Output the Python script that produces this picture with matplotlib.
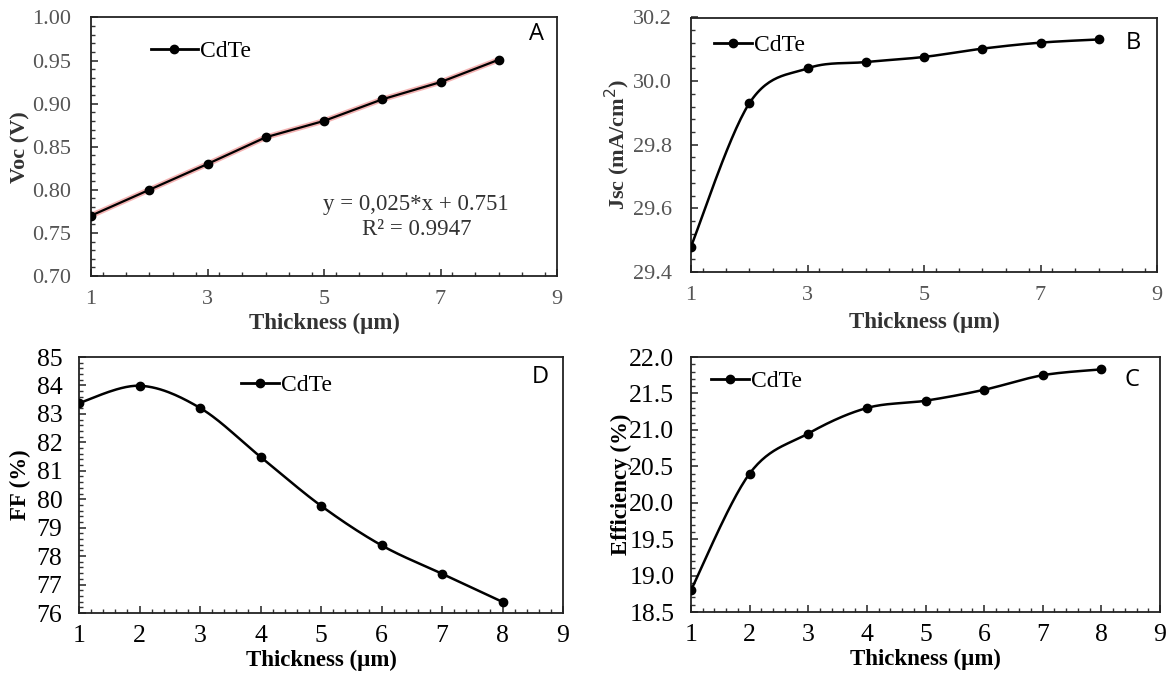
import numpy as np
import matplotlib
matplotlib.use("Agg")
import matplotlib.pyplot as plt
from matplotlib.ticker import MultipleLocator, FixedLocator, FormatStrFormatter
from matplotlib.lines import Line2D

plt.rcParams['font.family'] = ['Liberation Serif', 'DejaVu Serif']

thickness = [1, 2, 3, 4, 5, 6, 7, 8]
voc = [0.770, 0.800, 0.830, 0.861, 0.880, 0.905, 0.925, 0.951]
jsc = [29.48, 29.93, 30.04, 30.06, 30.076, 30.102, 30.121, 30.131]
ff = [83.38, 83.99, 83.21, 81.49, 79.77, 78.38, 77.38, 76.39]
eff = [18.80, 20.40, 20.95, 21.30, 21.40, 21.55, 21.75, 21.83]
top_xticks = [1, 3, 5, 7, 9]
bottom_xticks = [1, 2, 3, 4, 5, 6, 7, 8, 9]
fit_text = ["y = 0,025*x + 0.751", "R² = 0.9947"]

W, H = 1167, 673
fig = plt.figure(figsize=(W / 100, H / 100), dpi=100)


def px_axes(l, t, r, b):
    return fig.add_axes([l / W, 1 - b / H, (r - l) / W, (b - t) / H])


def smooth(x, y, n=30):
    x = np.asarray(x, float)
    y = np.asarray(y, float)
    P = np.column_stack([x, y])
    P = np.vstack([P[0], P, P[-1]])
    out = []
    for i in range(1, len(P) - 2):
        p0, p1, p2, p3 = P[i - 1], P[i], P[i + 1], P[i + 2]
        t = np.linspace(0, 1, n)[:, None]
        c = 0.5 * ((2 * p1) + (-p0 + p2) * t + (2 * p0 - 5 * p1 + 4 * p2 - p3) * t ** 2
                   + (-p0 + 3 * p1 - 3 * p2 + p3) * t ** 3)
        out.append(c if i == 1 else c[1:])
    c = np.vstack(out)
    return c[:, 0], c[:, 1]


def style(ax, tickcolor, fs, xticks, xmin, ymaj, ymin, fmt, pad):
    ax.set_xlim(1, 9)
    ax.xaxis.set_major_locator(FixedLocator(xticks))
    ax.xaxis.set_minor_locator(MultipleLocator(xmin))
    ax.yaxis.set_major_locator(MultipleLocator(ymaj))
    ax.yaxis.set_minor_locator(MultipleLocator(ymin))
    ax.yaxis.set_major_formatter(FormatStrFormatter(fmt))
    ax.tick_params(which='both', direction='in', top=False, right=False,
                   labelsize=fs, labelcolor=tickcolor, color='#333333')
    ax.tick_params(which='major', length=5, width=1.2)
    ax.tick_params(which='minor', length=3, width=1)
    ax.tick_params(axis='y', which='major', pad=pad)
    ax.tick_params(axis='x', which='major', pad=pad * 0.7)
    for s in ax.spines.values():
        s.set_linewidth(1.3)
        s.set_color('#222222')


def legend(ax, x, y, fs, hl):
    h = Line2D([], [], color='black', lw=2, marker='o', markersize=6)
    ax.legend([h], ['CdTe'], loc='center left', bbox_to_anchor=(x, y), frameon=False,
              fontsize=fs, handlelength=hl, handletextpad=0.1, borderaxespad=0, borderpad=0)


def letter(ax, s, x, y):
    ax.text(x, y, s, transform=ax.transAxes, fontsize=17, family=['Open Sans', 'DejaVu Sans'],
            ha='center', va='center')


# Panel A
axA = px_axes(91, 17.5, 557, 276)
axA.plot(thickness, voc, color='#f2a0a0', lw=4, alpha=0.8, zorder=2)
axA.plot(thickness, voc, color='black', lw=1.6, marker='o', markersize=6, zorder=3)
axA.set_ylim(0.70, 1.00)
style(axA, '#555555', 16, top_xticks, 0.4, 0.05, 0.01, '%.2f', 14)
axA.set_xlabel('Thickness (µm)', fontsize=16.5, fontweight='bold', color='#333333', labelpad=3)
axA.set_ylabel('Voc (V)', fontsize=16, fontweight='bold', color='#333333')
axA.yaxis.set_label_coords(-0.13, 0.5)
legend(axA, 0.128, 0.87, 17, 2.0)
letter(axA, 'A', 0.955, 0.935)
axA.text(0.698, 0.275, fit_text[0], transform=axA.transAxes, fontsize=16.5, color='#333333', ha='center', va='center')
axA.text(0.698, 0.18, fit_text[1], transform=axA.transAxes, fontsize=16.5, color='#333333', ha='center', va='center')

# Panel B
axB = px_axes(691, 17.5, 1157, 272)
sx, sy = smooth(thickness, jsc)
axB.plot(sx, sy, color='black', lw=1.8, zorder=3)
axB.plot(thickness, jsc, 'o', color='black', markersize=6, zorder=4)
axB.set_ylim(29.4, 30.2)
style(axB, '#555555', 16, top_xticks, 0.4, 0.2, 0.04, '%.1f', 14)
axB.set_xlabel('Thickness (µm)', fontsize=16.5, fontweight='bold', color='#333333', labelpad=5)
axB.set_ylabel('Jsc (mA/cm$^2$)', fontsize=16, fontweight='bold', color='#333333')
axB.yaxis.set_label_coords(-0.127, 0.5)
legend(axB, 0.05, 0.89, 17, 1.6)
letter(axB, 'B', 0.95, 0.9)

# Panel D
axD = px_axes(79, 357, 563, 613)
sx, sy = smooth(thickness, ff)
axD.plot(sx, sy, color='black', lw=1.8, zorder=3)
axD.plot(thickness, ff, 'o', color='black', markersize=6, zorder=4)
axD.set_ylim(76, 85)
style(axD, 'black', 18.5, bottom_xticks, 0.2, 1, 0.2, '%d', 12)
axD.set_xlabel('Thickness (µm)', fontsize=16.5, fontweight='bold', labelpad=2)
axD.set_ylabel('FF (%)', fontsize=16.5, fontweight='bold')
axD.yaxis.set_label_coords(-0.099, 0.5)
legend(axD, 0.335, 0.89, 17, 1.6)
letter(axD, 'D', 0.953, 0.92)

# Panel C
axC = px_axes(691, 357, 1160, 612)
sx, sy = smooth(thickness, eff)
axC.plot(sx, sy, color='black', lw=1.8, zorder=3)
axC.plot(thickness, eff, 'o', color='black', markersize=6, zorder=4)
axC.set_ylim(18.5, 22.0)
style(axC, 'black', 18.5, bottom_xticks, 0.2, 0.5, 0.1, '%.1f', 12)
axC.set_xlabel('Thickness (µm)', fontsize=16.5, fontweight='bold', labelpad=2)
axC.set_ylabel('Efficiency (%)', fontsize=16.5, fontweight='bold')
axC.yaxis.set_label_coords(-0.126, 0.5)
legend(axC, 0.043, 0.905, 17, 1.6)
letter(axC, 'C', 0.94, 0.91)

fig.savefig('out.png', dpi=100)
